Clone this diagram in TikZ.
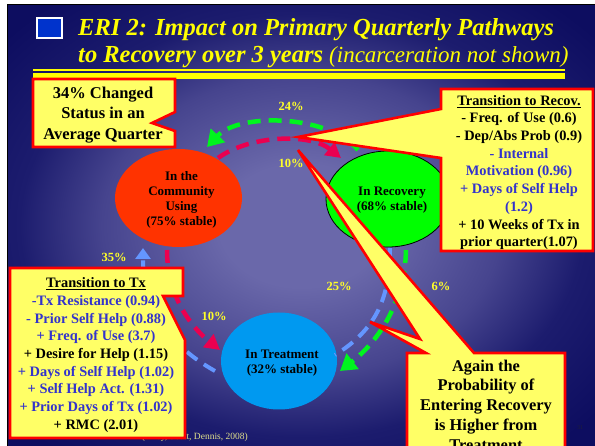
\documentclass[tikz,border=0pt]{standalone}
\usepackage{fontspec}
\setmainfont{Liberation Serif}
\usetikzlibrary{arrows.meta,shapes.geometric}
\definecolor{bgA}{RGB}{106,104,170}
\definecolor{bgB}{RGB}{70,68,142}
\definecolor{bgC}{RGB}{28,28,110}
\definecolor{bgD}{RGB}{13,13,96}
\definecolor{titleyellow}{RGB}{255,255,0}
\definecolor{pctyellow}{RGB}{255,255,40}
\definecolor{calloutfill}{RGB}{255,255,102}
\definecolor{calloutred}{RGB}{255,0,0}
\definecolor{txtblue}{RGB}{51,51,204}
\definecolor{sqblue}{RGB}{0,51,204}
\definecolor{commred}{RGB}{255,51,0}
\definecolor{recgreen}{RGB}{0,255,0}
\definecolor{treatblue}{RGB}{0,153,240}
\definecolor{flowgreen}{RGB}{0,245,30}
\definecolor{flowred}{RGB}{235,0,80}
\definecolor{flowblue}{RGB}{100,150,255}
\definecolor{citecol}{RGB}{225,225,140}
\definecolor{pagenum}{RGB}{30,30,60}
\pgfdeclareradialshading{slidebg}{\pgfpoint{0bp}{0bp}}{color(0bp)=(bgA); color(7bp)=(bgA); color(17bp)=(bgB); color(24bp)=(bgC); color(33bp)=(bgD); color(50bp)=(bgD)}
\tikzset{
  flow/.style={line width=4.5pt, dash pattern=on 13pt off 8pt},
  greenflow/.style={flow, draw=flowgreen, -{Triangle[length=16pt,width=19pt]}},
  redflow/.style={flow, draw=flowred, -{Triangle[length=15pt,width=16pt]}},
  blueflow/.style={flow, line width=4pt, draw=flowblue},
  callout/.style={fill=calloutfill, draw=calloutred, line width=2.6pt, line join=miter},
  boxtext/.style={align=center, inner sep=0, font=\bfseries\fontsize{14.4}{17.7}\selectfont},
  bigtext/.style={align=center, inner sep=0, font=\bfseries\fontsize{16.5}{20.5}\selectfont},
  elltext/.style={align=center, inner sep=0, font=\bfseries\fontsize{13}{15}\selectfont},
  pct/.style={inner sep=0, text=pctyellow, font=\bfseries\fontsize{12.5}{14}\selectfont},
  state/.style={ellipse, inner sep=0}
}
\begin{document}
\begin{tikzpicture}[x=1pt,y=-1pt]
\useasboundingbox (0,0) rectangle (595,446);
\clip (0,0) rectangle (595,446);
\fill[white] (0,0) rectangle (595,446);
\shade[shading=slidebg] (8,5) rectangle (595,446);
\draw[black, line width=1.2pt] (7.4,446) -- (7.4,4.4) -- (595,4.4);

% title
\node[draw=white, line width=2pt, fill=sqblue, minimum width=24.5pt, minimum height=20.5pt, inner sep=0] (sq) at (49.3,28) {};
\node[anchor=base west, inner sep=0, text=titleyellow, font=\bfseries\itshape\fontsize{24.5}{27}\selectfont] (t1) at (78,36) {ERI 2: Impact on Primary Quarterly Pathways};
\node[anchor=base west, inner sep=0, text=titleyellow, font=\bfseries\itshape\fontsize{24.5}{27}\selectfont] (t2) at (78,63) {to Recovery over 3 years {\mdseries\fontsize{23}{27}\selectfont (incarceration not shown)}};
\fill[titleyellow] (33,69.5) rectangle (565,71);
\fill[titleyellow] (33,73) rectangle (565,79);

% states
\node[state, fill=commred, minimum width=127pt, minimum height=98pt] (comm) at (178.5,198) {};
\node[state, fill=recgreen, draw=black, line width=0.8pt, minimum width=124pt, minimum height=96pt] (rec) at (388,199) {};
\node[state, fill=treatblue, minimum width=116pt, minimum height=97pt] (treat) at (279,361) {};
\node[elltext] (commtxt) at (181.5,200) {In the\\Community\\Using\\(75\% stable)};
\node[elltext] (rectxt) at (392,200) {In Recovery\\(68\% stable)};
\node[elltext] (treattxt) at (282,363) {In Treatment\\(32\% stable)};

% flows
\coordinate (g1s) at (358,150); \coordinate (g1e) at (207,147);
\coordinate (r1s) at (218,158); \coordinate (r1e) at (341,158);
\coordinate (r2s) at (167,250); \coordinate (r2e) at (220,350);
\coordinate (b1s) at (215,371); \coordinate (b1e) at (143,248);
\coordinate (b2s) at (390,248); \coordinate (b2e) at (335,355);
\coordinate (g2s) at (406,250); \coordinate (g2e) at (340,371);
\draw[greenflow] (g1s) .. controls (330,115) and (240,112) .. (g1e);
\draw[redflow] (r1s) .. controls (250,135) and (310,133) .. (r1e);
\draw[redflow] (r2s) .. controls (167,300) and (195,330) .. (r2e);
\draw[blueflow, -{Triangle[length=11pt,width=15pt]}] (b1s) .. controls (160,340) and (143,300) .. (b1e);
\draw[blueflow] (b2s) .. controls (390,300) and (375,330) .. (b2e);
\draw[greenflow] (g2s) .. controls (405,300) and (380,340) .. (g2e);

% citation (partly hidden)
\node[anchor=base east, inner sep=0, text=citecol, font=\fontsize{9.5}{11}\selectfont] (cite) at (248,439.5) {(Riley, Scott, Dennis, 2008)};
\node[inner sep=0, text=pagenum, font=\fontsize{6}{7}\selectfont] (pg) at (580,428) {31};

% callouts
\draw[callout] (33,79) -- (175,79) -- (175,112) -- (152,123) -- (175,131) -- (175,147) -- (33,147) -- cycle;
\node[bigtext] (changed) at (103,115) {34\% Changed\\Status in an\\Average Quarter};

\draw[callout] (441,89) -- (593,89) -- (593,251) -- (441,251) -- (441,158) -- (298,137) -- (441,109) -- cycle;
\node[boxtext] (recbox) at (519,172.5) {\underline{Transition to Recov.}\\- Freq. of Use (0.6)\\- Dep/Abs Prob (0.9)\\\textcolor{txtblue}{- Internal}\\\textcolor{txtblue}{Motivation (0.96)}\\\textcolor{txtblue}{+ Days of Self Help}\\\textcolor{txtblue}{(1.2)}\\+ 10 Weeks of Tx in\\prior quarter(1.07)};

\draw[callout] (10,268) -- (183,268) -- (183,296) -- (163,296) -- (185,340) -- (185,438) -- (10,438) -- cycle;
\node[boxtext] (txbox) at (96,355) {\underline{Transition to Tx}\\\textcolor{txtblue}{-Tx Resistance (0.94)}\\\textcolor{txtblue}{- Prior Self Help (0.88)}\\\textcolor{txtblue}{+ Freq. of Use (3.7)}\\+ Desire for Help (1.15)\\\textcolor{txtblue}{+ Days of Self Help (1.02)}\\\textcolor{txtblue}{+ Self Help Act. (1.31)}\\\textcolor{txtblue}{+ Prior Days of Tx (1.02)}\\+ RMC (2.01)};

\draw[callout] (407,353) -- (426,353) -- (370,322) -- (420,339) -- (298,150) -- (474,353) -- (565,353) -- (565,470) -- (407,470) -- cycle;
\node[bigtext, font=\bfseries\fontsize{16.4}{19.7}\selectfont] (again) at (486,405) {Again the\\Probability of\\Entering Recovery\\is Higher from\\Treatment};

% percentages
\node[pct] (p24) at (291,106) {24\%};
\node[pct] (p10a) at (291,163) {10\%};
\node[pct] (p35) at (114,257) {35\%};
\node[pct] (p10b) at (214,316) {10\%};
\node[pct] (p25) at (339,286) {25\%};
\node[pct] (p6) at (441,286) {6\%};
\end{tikzpicture}
\end{document}
